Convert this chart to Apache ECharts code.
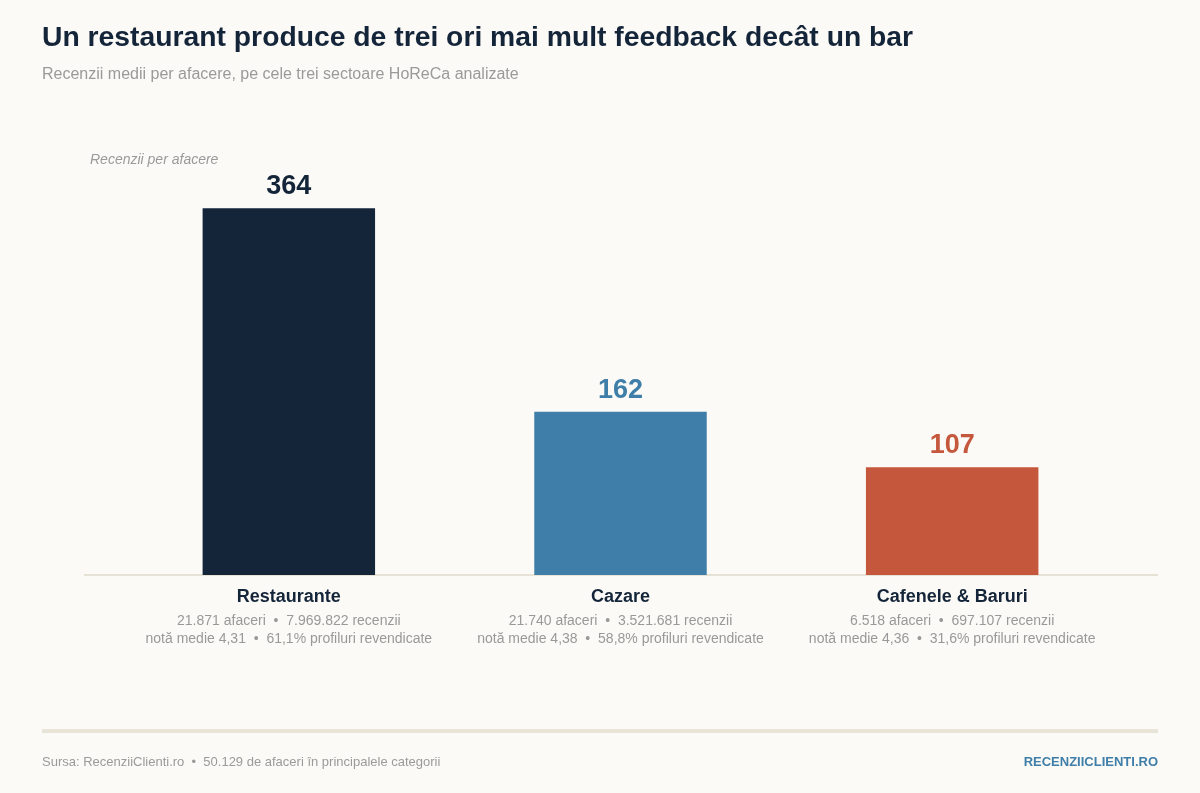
<!DOCTYPE html>
<html>
<head>
<meta charset="utf-8">
<script src="https://cdn.jsdelivr.net/npm/echarts@6/dist/echarts.min.js"></script>
<style>
html,body{margin:0;padding:0;background:#fbfaf6;}
#c{width:1200px;height:793px;}
</style>
</head>
<body>
<div id="c"></div>
<script>
var categories = ['Restaurante', 'Cazare', 'Cafenele & Baruri'];
var values = [364, 162, 107];
var businesses = ['21.871', '21.740', '6.518'];
var reviews = ['7.969.822', '3.521.681', '697.107'];
var ratings = ['4,31', '4,38', '4,36'];
var claimed = ['61,1%', '58,8%', '31,6%'];
var colors = ['#14253a', '#3e7ea8', '#c5573c'];

var FONT = '"Liberation Sans", Arial, Helvetica, sans-serif';
var chart = echarts.init(document.getElementById('c'));

var lookup = {};
categories.forEach(function (c, i) { lookup[c] = i; });

chart.setOption({
  backgroundColor: '#fbfaf6',
  textStyle: { fontFamily: FONT },
  animation: false,
  title: [
    { text: 'Un restaurant produce de trei ori mai mult feedback decât un bar',
      left: 42, top: 24, padding: 0,
      textStyle: { fontSize: 28.3, fontWeight: 'bold', color: '#14253a', fontFamily: FONT } },
    { text: 'Recenzii medii per afacere, pe cele trei sectoare HoReCa analizate',
      left: 42, top: 67, padding: 0,
      textStyle: { fontSize: 16, fontWeight: 'normal', color: '#9a9a9a', fontFamily: FONT } }
  ],
  grid: { left: 123, right: 82, top: 172, bottom: 218 },
  xAxis: {
    type: 'category',
    data: categories,
    axisLine: { show: false },
    axisTick: { show: false },
    axisLabel: {
      margin: 7,
      interval: 0,
      formatter: function (v) {
        var i = lookup[v];
        return '{n|' + v + '}\n{d|' + businesses[i] + ' afaceri  •  ' + reviews[i] + ' recenzii}\n{d|notă medie ' + ratings[i] + '  •  ' + claimed[i] + ' profiluri revendicate}';
      },
      rich: {
        n: { fontSize: 18, fontWeight: 'bold', color: '#14253a', fontFamily: FONT, lineHeight: 30 },
        d: { fontSize: 14, color: '#999999', fontFamily: FONT, lineHeight: 18 }
      }
    }
  },
  yAxis: {
    type: 'value',
    min: 0, max: 400,
    show: false
  },
  series: [{
    type: 'bar',
    barWidth: '52%',
    data: values.map(function (v, i) {
      return { value: v, itemStyle: { color: colors[i] },
               label: { color: colors[i] } };
    }),
    label: {
      show: true,
      position: 'top',
      distance: 8,
      fontSize: 27,
      fontWeight: 'bold',
      fontFamily: FONT
    }
  }],
  graphic: [
    { type: 'text', left: 90, top: 153,
      style: { text: 'Recenzii per afacere', fill: '#9a9a9a', font: 'italic 14px ' + FONT } },
    { type: 'rect', shape: { x: 84, y: 574, width: 1074, height: 2 },
      style: { fill: '#e6e2d6' }, z: 0 },
    { type: 'rect', shape: { x: 42, y: 729, width: 1116, height: 4 },
      style: { fill: '#e8e4d8' } },
    { type: 'text', left: 42, top: 756,
      style: { text: 'Sursa: RecenziiClienti.ro  •  50.129 de afaceri în principalele categorii', font: '13px ' + FONT, fill: '#9a9a9a' } },
    { type: 'text', right: 42, top: 756,
      style: { text: 'RECENZIICLIENTI.RO', font: 'bold 13px ' + FONT, fill: '#3e7ea8' } }
  ]
});
</script>
</body>
</html>
